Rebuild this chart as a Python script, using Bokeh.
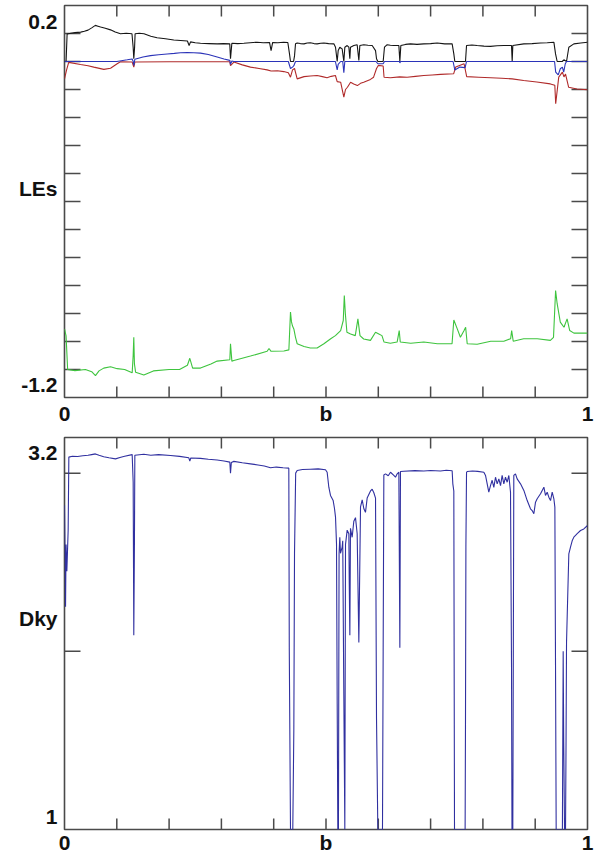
import math
from bokeh.plotting import figure
from bokeh.layouts import column
from bokeh.models import FixedTicker, Range1d
from bokeh.embed import file_html
from bokeh.resources import INLINE

# ---------------- data ----------------
# Lyapunov exponent 1 (black)
LE1 = [(0.000, 0.000), (0.003, 0.000), (0.005, 0.098), (0.012, 0.101), (0.020, 0.103), (0.031, 0.105),
       (0.038, 0.108), (0.045, 0.112), (0.052, 0.120), (0.059, 0.129), (0.064, 0.126), (0.069, 0.123),
       (0.078, 0.119), (0.088, 0.113), (0.097, 0.105), (0.107, 0.099), (0.118, 0.101), (0.129, 0.099),
       (0.1313, 0.050), (0.1325, 0.010), (0.1340, 0.050), (0.1350, 0.099), (0.143, 0.101), (0.152, 0.099),
       (0.165, 0.090), (0.177, 0.085), (0.193, 0.081), (0.209, 0.077), (0.222, 0.075), (0.235, 0.073),
       (0.2383, 0.057), (0.2410, 0.070), (0.250, 0.067), (0.260, 0.065), (0.276, 0.064), (0.292, 0.063),
       (0.304, 0.064), (0.316, 0.063), (0.3174, 0.010), (0.3200, 0.065), (0.331, 0.064), (0.343, 0.065),
       (0.355, 0.067), (0.368, 0.069), (0.380, 0.067), (0.392, 0.068), (0.395, 0.039), (0.398, 0.068),
       (0.408, 0.067), (0.419, 0.069), (0.427, 0.068), (0.430, 0.030), (0.4321, 0.000), (0.4380, 0.000),
       (0.4398, 0.020), (0.4417, 0.063), (0.4449, 0.066), (0.451, 0.064), (0.458, 0.063), (0.464, 0.066),
       (0.470, 0.067), (0.477, 0.064), (0.483, 0.063), (0.490, 0.065), (0.496, 0.066), (0.505, 0.064),
       (0.515, 0.063), (0.5182, 0.051), (0.5214, 0.000), (0.5233, 0.039), (0.5264, 0.051), (0.5309, 0.045),
       (0.5341, 0.000), (0.5360, 0.051), (0.5405, 0.057), (0.5437, 0.051), (0.5456, 0.010), (0.5468, 0.051),
       (0.5532, 0.057), (0.5596, 0.060), (0.5628, 0.004), (0.5647, 0.057), (0.5724, 0.060), (0.580, 0.058),
       (0.5883, 0.057), (0.5947, 0.039), (0.5966, 0.010), (0.5991, 0.000), (0.6093, 0.000), (0.6118, 0.051),
       (0.6170, 0.060), (0.623, 0.058), (0.6297, 0.057), (0.6393, 0.057), (0.6412, 0.000), (0.6431, 0.057),
       (0.652, 0.061), (0.6616, 0.063), (0.674, 0.061), (0.6870, 0.063), (0.700, 0.064), (0.7126, 0.066),
       (0.727, 0.063), (0.7412, 0.063), (0.7444, 0.027), (0.7463, 0.000), (0.7667, 0.000), (0.7687, 0.057),
       (0.779, 0.059), (0.7890, 0.057), (0.802, 0.055), (0.8145, 0.054), (0.827, 0.056), (0.8400, 0.057),
       (0.8547, 0.057), (0.8560, 0.000), (0.8572, 0.057), (0.8783, 0.063), (0.894, 0.064), (0.9102, 0.066),
       (0.923, 0.067), (0.9357, 0.069), (0.9389, 0.027), (0.9420, 0.000), (0.9516, 0.000), (0.9548, 0.006),
       (0.9599, 0.000), (0.9643, 0.051), (0.9739, 0.063), (0.987, 0.066), (1.000, 0.069)]

# Lyapunov exponent 2 (blue)
LE2 = [(0.000, 0.000), (0.100, 0.000), (0.120, 0.006), (0.1294, 0.009), (0.1313, 0.000), (0.1325, -0.014),
       (0.1345, 0.008), (0.150, 0.016), (0.1644, 0.021), (0.180, 0.024), (0.1963, 0.027), (0.210, 0.029),
       (0.2218, 0.031), (0.235, 0.032), (0.2473, 0.031), (0.260, 0.030), (0.275, 0.025), (0.2919, 0.016),
       (0.305, 0.009), (0.3161, 0.004), (0.3174, -0.010), (0.3200, 0.002), (0.3238, 0.000), (0.428, 0.000),
       (0.4321, -0.025), (0.4360, -0.020), (0.4385, -0.015), (0.4417, 0.000), (0.518, 0.000), (0.5214, -0.030),
       (0.5233, -0.010), (0.528, 0.000), (0.532, 0.000), (0.5341, -0.040), (0.5360, 0.000), (0.5956, 0.000),
       (0.5991, -0.008), (0.6093, -0.008), (0.6118, 0.000), (0.6405, 0.000), (0.6412, -0.005), (0.6425, 0.000),
       (0.7430, 0.000), (0.7463, -0.030), (0.7560, -0.020), (0.7660, -0.022), (0.7687, 0.000), (0.9370, 0.000),
       (0.9392, -0.038), (0.9440, -0.048), (0.9480, -0.026), (0.9520, -0.020), (0.9545, -0.038),
       (0.9575, -0.008), (0.9600, 0.000), (1.000, 0.000)]

# Lyapunov exponent 3 (red)
LE3 = [(0.000, -0.062), (0.004, -0.030), (0.008, -0.003), (0.0306, -0.011), (0.045, -0.015), (0.0561, -0.020),
       (0.0752, -0.028), (0.088, -0.024), (0.1007, -0.008), (0.107, -0.001), (0.1294, -0.002), (0.1325, -0.020),
       (0.1345, -0.002), (0.200, -0.001), (0.3161, -0.001), (0.3174, -0.015), (0.3238, -0.002), (0.340, -0.012),
       (0.3556, -0.020), (0.372, -0.025), (0.3875, -0.030), (0.395, -0.034), (0.407, -0.033), (0.4194, -0.036),
       (0.428, -0.040), (0.4321, -0.056), (0.4360, -0.030), (0.4398, -0.025), (0.4449, -0.062), (0.458, -0.054),
       (0.470, -0.052), (0.483, -0.050), (0.493, -0.054), (0.502, -0.058), (0.510, -0.053), (0.518, -0.050),
       (0.5214, -0.072), (0.528, -0.074), (0.5341, -0.127), (0.5373, -0.100), (0.541, -0.092), (0.547, -0.074),
       (0.553, -0.080), (0.560, -0.086), (0.566, -0.078), (0.572, -0.074), (0.585, -0.064), (0.591, -0.056),
       (0.5966, -0.025), (0.600, -0.014), (0.6093, -0.016), (0.611, -0.056), (0.623, -0.058), (0.641, -0.055),
       (0.655, -0.056), (0.671, -0.053), (0.687, -0.050), (0.703, -0.048), (0.719, -0.046), (0.744, -0.044),
       (0.748, -0.020), (0.764, -0.008), (0.769, -0.054), (0.792, -0.056), (0.815, -0.058), (0.836, -0.060),
       (0.856, -0.062), (0.878, -0.068), (0.903, -0.073), (0.929, -0.080), (0.9375, -0.085), (0.9392, -0.151),
       (0.945, -0.056), (0.952, -0.038), (0.955, -0.055), (0.958, -0.045), (0.964, -0.092), (0.980, -0.098),
       (1.000, -0.101)]

# Lyapunov exponent 4 (green)
LE4 = [(0.000, -0.955), (0.003, -0.980), (0.006, -1.100), (0.020, -1.104), (0.040, -1.100), (0.052, -1.108),
       (0.0592, -1.122), (0.066, -1.105), (0.075, -1.095), (0.088, -1.090), (0.1007, -1.097), (0.115, -1.100),
       (0.1294, -1.112), (0.1313, -1.050), (0.1325, -0.985), (0.1337, -1.080), (0.136, -1.110), (0.1517, -1.120),
       (0.170, -1.105), (0.200, -1.100), (0.220, -1.100), (0.235, -1.085), (0.2396, -1.060), (0.245, -1.095),
       (0.260, -1.095), (0.280, -1.080), (0.2919, -1.070), (0.3161, -1.065), (0.3174, -1.008), (0.3200, -1.070),
       (0.3238, -1.068), (0.3556, -1.052), (0.3875, -1.035), (0.391, -1.025), (0.395, -1.035), (0.4194, -1.034),
       (0.429, -1.030), (0.4321, -0.895), (0.4340, -0.930), (0.4360, -0.945), (0.4385, -0.955), (0.4417, -0.985),
       (0.4449, -1.008), (0.458, -1.018), (0.470, -1.023), (0.483, -1.023), (0.496, -1.008), (0.509, -0.990),
       (0.518, -0.979), (0.528, -0.961), (0.533, -0.925), (0.535, -0.836), (0.537, -0.901), (0.540, -0.967),
       (0.547, -0.973), (0.556, -0.979), (0.561, -0.919), (0.565, -0.979), (0.572, -0.991), (0.585, -0.996),
       (0.5947, -0.967), (0.601, -0.973), (0.607, -0.979), (0.611, -1.002), (0.623, -1.006), (0.636, -1.002),
       (0.640, -0.961), (0.642, -1.002), (0.662, -1.006), (0.687, -1.002), (0.713, -1.008), (0.741, -1.008),
       (0.7444, -0.923), (0.751, -0.955), (0.757, -0.985), (0.764, -0.961), (0.767, -0.949), (0.770, -1.008),
       (0.789, -1.010), (0.815, -0.999), (0.840, -0.999), (0.853, -0.990), (0.855, -0.961), (0.858, -0.999),
       (0.878, -0.990), (0.904, -0.990), (0.929, -0.996), (0.935, -0.985), (0.939, -0.818), (0.942, -0.865),
       (0.948, -0.931), (0.955, -0.949), (0.961, -0.919), (0.966, -0.961), (0.974, -0.970), (1.000, -0.970)]

# Kaplan-Yorke dimension (bottom panel)
DKY = [(0.000, 2.82), (0.002, 2.25), (0.003, 2.60), (0.0045, 2.45), (0.007, 2.68), (0.0083, 3.09),
       (0.015, 3.095), (0.025, 3.093), (0.035, 3.098), (0.045, 3.100), (0.052, 3.104), (0.059, 3.108),
       (0.066, 3.100), (0.075, 3.092), (0.085, 3.086), (0.0975, 3.080), (0.106, 3.088), (0.115, 3.095),
       (0.1294, 3.104), (0.1313, 2.95), (0.1325, 2.09), (0.1337, 2.60), (0.1345, 3.10), (0.1517, 3.106),
       (0.165, 3.100), (0.180, 3.104), (0.2027, 3.099), (0.220, 3.094), (0.2377, 3.086), (0.2396, 3.068),
       (0.2415, 3.085), (0.260, 3.083), (0.275, 3.078), (0.2919, 3.074), (0.305, 3.068), (0.3161, 3.062),
       (0.3174, 2.999), (0.3190, 3.060), (0.3238, 3.066), (0.340, 3.058), (0.3556, 3.052), (0.370, 3.046),
       (0.382, 3.040), (0.3939, 3.030), (0.405, 3.034), (0.418, 3.030), (0.4289, 3.028), (0.4298, 2.01),
       (0.4321, 1.0), (0.4365, 1.0), (0.4385, 1.56), (0.4398, 2.55), (0.4420, 3.00), (0.4449, 3.015),
       (0.455, 3.020), (0.470, 3.022), (0.485, 3.024), (0.4990, 3.019), (0.5022, 3.005), (0.5054, 2.921),
       (0.5086, 2.875), (0.5137, 2.846), (0.5163, 2.800), (0.5182, 2.753), (0.5201, 2.603), (0.5214, 1.705),
       (0.5226, 1.0), (0.5238, 1.0), (0.5250, 2.55), (0.5264, 2.64), (0.5277, 2.55), (0.5309, 2.585),
       (0.5320, 2.62), (0.5341, 1.75), (0.5360, 1.0), (0.5373, 2.60), (0.5405, 2.68), (0.5437, 2.66),
       (0.5445, 2.38), (0.5456, 2.09), (0.5468, 2.69), (0.5500, 2.64), (0.5532, 2.73), (0.5564, 2.75),
       (0.5596, 2.66), (0.5628, 2.05), (0.5660, 2.81), (0.5692, 2.85), (0.5724, 2.80), (0.5755, 2.78),
       (0.5787, 2.86), (0.5851, 2.90), (0.5883, 2.91), (0.5915, 2.89), (0.5947, 2.86), (0.5966, 1.62),
       (0.5991, 1.0), (0.6080, 1.0), (0.6093, 2.0), (0.6106, 2.99), (0.6138, 2.996), (0.6190, 2.985),
       (0.6233, 3.005), (0.6297, 2.987), (0.6329, 2.977), (0.6361, 2.996), (0.6393, 3.005), (0.6412, 2.02),
       (0.6424, 3.009), (0.6488, 3.011), (0.670, 3.014), (0.6870, 3.012), (0.700, 3.015), (0.7189, 3.012),
       (0.730, 3.016), (0.7412, 3.013), (0.7425, 2.94), (0.7444, 2.90), (0.7450, 2.0), (0.7457, 1.0),
       (0.7660, 1.0), (0.7667, 1.59), (0.7675, 2.59), (0.7687, 3.005), (0.7699, 3.009), (0.780, 3.012),
       (0.790, 3.010), (0.8018, 3.005), (0.8050, 2.987), (0.8082, 2.94), (0.8113, 2.893), (0.8145, 2.93),
       (0.8177, 2.96), (0.8209, 2.92), (0.8241, 2.977), (0.8273, 2.94), (0.8305, 2.968), (0.8337, 2.93),
       (0.8368, 2.987), (0.8400, 2.94), (0.8432, 2.977), (0.8464, 2.949), (0.8496, 2.987), (0.8528, 2.893),
       (0.8547, 1.93), (0.8556, 1.0), (0.8572, 1.0), (0.8591, 2.987), (0.8623, 2.996), (0.8655, 2.968),
       (0.8719, 2.94), (0.8783, 2.903), (0.8847, 2.846), (0.8910, 2.800), (0.8942, 2.790), (0.8974, 2.772),
       (0.9006, 2.837), (0.9038, 2.856), (0.9102, 2.884), (0.9134, 2.903), (0.9166, 2.921), (0.9197, 2.875),
       (0.9229, 2.893), (0.9261, 2.865), (0.9293, 2.846), (0.9325, 2.893), (0.9357, 2.856), (0.9376, 2.809),
       (0.9389, 1.89), (0.9401, 1.0), (0.9520, 1.0), (0.9535, 2.0), (0.9545, 1.5), (0.9561, 1.0),
       (0.9580, 1.0), (0.9590, 1.5), (0.9599, 2.05), (0.9612, 2.20), (0.9643, 2.547), (0.9675, 2.585),
       (0.9707, 2.62), (0.9739, 2.641), (0.9803, 2.66), (0.9867, 2.678), (0.9930, 2.687), (1.000, 2.706)]

# axes: tick positions and the texts shown
B_TICKS = [0.1, 0.2, 0.3, 0.4, 0.5, 0.6, 0.7, 0.8, 0.9]
B_LABELS = {0.0: "0", 0.5: "b", 1.0: "1"}
LE_TICKS = [-1.1, -1.0, -0.9, -0.8, -0.7, -0.6, -0.5, -0.4, -0.3, -0.2, -0.1, 0.0, 0.1]
DKY_TICKS = [2.0, 3.0]
LE_RANGE = (-1.2, 0.2)
DKY_RANGE = (1.0, 3.2)
# left-side texts (text, y position where it is shown)
LE_TEXTS = [("0.2", 0.1446), ("LEs", -0.4536), ("-1.2", -1.1536)]
DKY_TEXTS = [("3.2", 3.1158), ("Dky", 2.1842), ("1", 1.0730)]

FONT = "Liberation Sans"
FRAME_COLOR = "#4a4a4a"


def xs(pairs):
    return [p[0] for p in pairs]


def ys(pairs):
    return [p[1] for p in pairs]


def plain_axis(ax, standoff):
    ax.axis_line_color = None
    ax.major_tick_line_color = None
    ax.minor_tick_line_color = None
    ax.major_tick_in = 0
    ax.major_tick_out = 0
    ax.minor_tick_in = 0
    ax.minor_tick_out = 0
    ax.major_label_standoff = standoff
    ax.major_label_text_font = FONT
    ax.major_label_text_font_style = "bold"
    ax.major_label_text_font_size = "21px"
    ax.major_label_text_color = "#111111"


def make_panel(yr, yticks, texts, top, bottom, x_standoff):
    p = figure(frame_width=523, frame_height=392, x_range=Range1d(0, 1), y_range=Range1d(*yr),
               min_border_left=64, min_border_right=12, min_border_top=top, min_border_bottom=bottom,
               output_backend="svg", toolbar_location=None)
    p.xgrid.visible = False
    p.ygrid.visible = False
    p.outline_line_color = FRAME_COLOR
    p.outline_line_width = 1.6
    # texts on the axes
    xa = p.xaxis[0]
    plain_axis(xa, x_standoff)
    xa.ticker = FixedTicker(ticks=list(B_LABELS.keys()))
    xa.major_label_overrides = dict(B_LABELS)
    ya = p.yaxis[0]
    plain_axis(ya, 7)
    ya.ticker = FixedTicker(ticks=[t[1] for t in texts])
    ya.major_label_overrides = {t[1]: t[0] for t in texts}
    # inward tick marks on all four sides (half of each dash is clipped by the frame)
    ymin, ymax = yr
    tick_kw = dict(marker="dash", line_color=FRAME_COLOR, line_width=1.5, fill_color=None)
    p.scatter([0.0] * len(yticks), yticks, size=32, **tick_kw)
    p.scatter([1.0] * len(yticks), yticks, size=32, **tick_kw)
    p.scatter(B_TICKS, [ymin] * len(B_TICKS), size=22, angle=math.pi / 2, **tick_kw)
    p.scatter(B_TICKS, [ymax] * len(B_TICKS), size=22, angle=math.pi / 2, **tick_kw)
    return p


# ---------------- top panel: LEs ----------------
p1 = make_panel(LE_RANGE, LE_TICKS, LE_TEXTS, 5, 30, 4)
p1.line(xs(LE1), ys(LE1), line_color="#151515", line_width=1.1)
p1.line(xs(LE3), ys(LE3), line_color="#b02a2a", line_width=1.1)
p1.line(xs(LE2), ys(LE2), line_color="#2b33b8", line_width=1.1)
p1.line(xs(LE4), ys(LE4), line_color="#3ec43e", line_width=1.1)

# ---------------- bottom panel: Dky ----------------
p2 = make_panel(DKY_RANGE, DKY_TICKS, DKY_TEXTS, 10, 25, 1)
p2.line(xs(DKY), ys(DKY), line_color="#3030a0", line_width=1.1)

layout = column(p1, p2, spacing=0)
open("out.html", "w").write(file_html(layout, INLINE))
